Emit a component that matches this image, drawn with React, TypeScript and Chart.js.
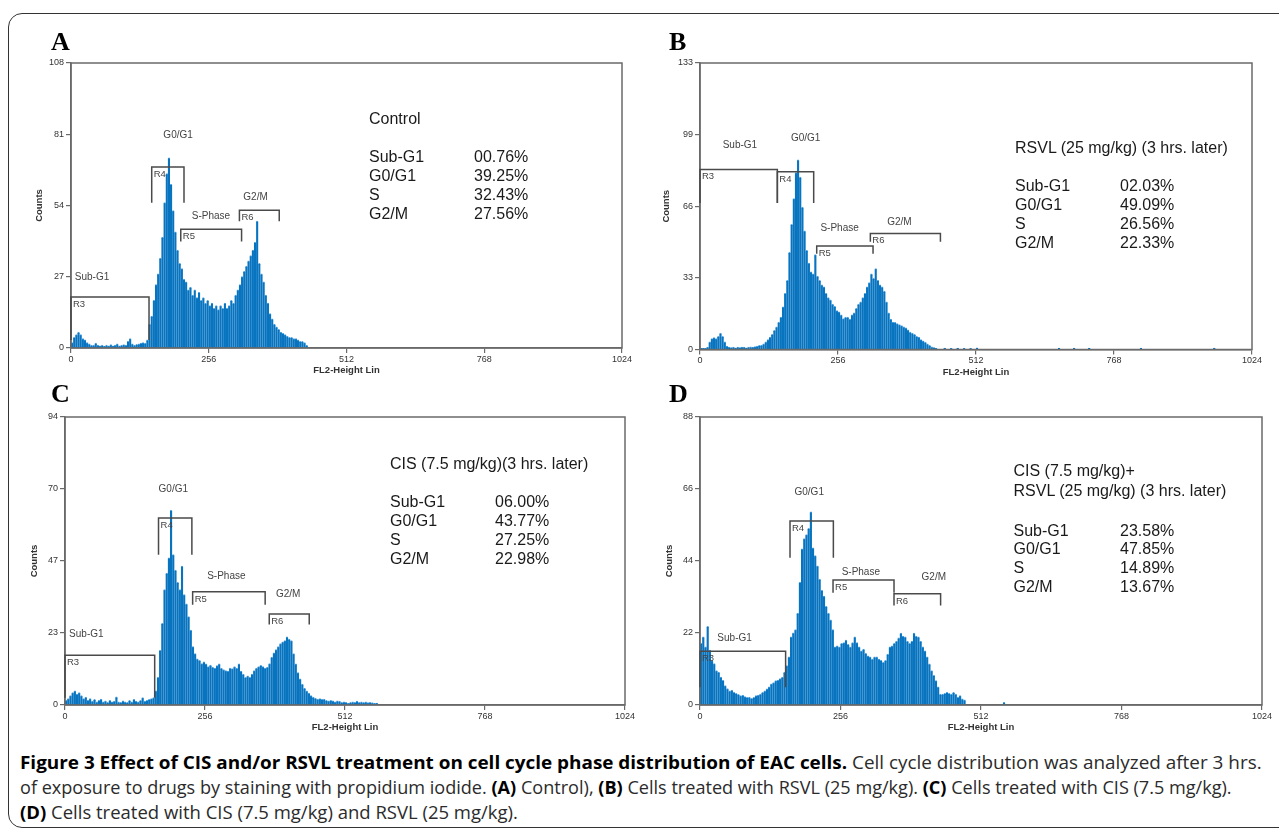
import React, { useEffect, useLayoutEffect, useRef } from 'react';
import { Chart, registerables } from 'chart.js';

Chart.register(...registerables);

// ---------------- data ----------------
const BIN = 4; // channels per histogram bar
const X_TICKS = [0, 256, 512, 768, 1024];
const PHASE_NAMES = ['Sub-G1', 'G0/G1', 'S-Phase', 'G2/M'];
const REGION_NAMES = ['R3', 'R4', 'R5', 'R6'];
const ROW_LABELS = ['Sub-G1', 'G0/G1', 'S', 'G2/M'];

// Panel A – Control
const aCounts = [
  2, 4, 5, 6, 5, 3.5, 3, 2, 1.5, 1, 1, 1.8, 1, 0.8, 1, 0.7, 1, 0.8, 1.2, 0.8,
  1, 1.5, 0.8, 1, 1.2, 1, 2.5, 3.5, 1.5, 1, 1.3, 1.5, 1.8, 2, 1.8, 3, 9, 12, 18, 24,
  28, 34, 42, 55, 66, 72, 62, 52, 44, 37, 32, 30, 26, 25, 22, 23, 20, 22, 19, 21,
  18, 19, 17, 18, 16, 17, 15, 16, 14.5, 16, 15, 17, 15, 16, 18, 17, 20, 22, 24, 27,
  29, 31, 33, 35, 37, 40, 48, 32, 28, 25, 20, 17, 13, 11, 9, 8, 7, 6, 5.5, 5,
  4.5, 4, 4, 3.5, 3.5, 3, 2.5, 2.5, 2, 1,
];
const aYTicks = [0, 27, 54, 81, 108];
const aYLabels = ['0', '27', '54', '81', '108'];
const aRegStart = [0, 150, 204, 313];
const aRegEnd = [145, 210, 317, 387];
const aRegTop = [19.3, 68.6, 45, 52.2];
const aRegFoot = [3, 55, 40.4, 48];
const aPhaseX = [39, 199, 260, 343];
const aPhaseY = [27, 80.5, 50, 57];
const aTitle = ['Control'];
const aPercents = ['00.76%', '39.25%', '32.43%', '27.56%'];

// Panel B – RSVL
const bCounts = [
  0.5, 0.5, 0.5, 1, 3.5, 5, 5.5, 5, 6, 7.5, 6, 3.5, 1.5, 1, 0.8, 1, 0.7, 1, 0.8, 1,
  1, 0.7, 1, 1.2, 1, 1.3, 1.5, 1.8, 2, 2.5, 3.5, 4.5, 5.7, 7, 8.8, 10.5, 12.7, 15, 19.7, 26,
  32, 45, 58, 70, 82, 88, 80, 66, 55, 46, 40, 36, 35, 44, 34, 32, 30, 29, 26, 24,
  23, 21, 20, 18, 17.4, 16, 14.3, 15, 15, 14, 16, 17, 19, 21, 22, 24, 26, 29, 31, 35,
  33, 37.5, 32, 30, 29, 27, 22, 17, 14, 12.7, 12.5, 12, 11.5, 11, 10.4, 10, 9, 8, 7.5, 7,
  6, 5.7, 4.5, 4, 3.4, 2.5, 1.9, 1.2, 0.8, 0.5,
];
const bTailChannels = [452, 464, 476, 488, 500, 512, 664, 692, 720, 816, 952];
const bTailCounts = [0.6, 0.5, 0.6, 0.5, 0.5, 0.7, 0.6, 0.6, 0.6, 0.6, 0.6];
const bYTicks = [0, 33.25, 66.5, 99.75, 133];
const bYLabels = ['0', '33', '66', '99', '133'];
const bRegStart = [0, 143.5, 216.5, 316];
const bRegEnd = [143.5, 210.9, 321, 446];
const bRegTop = [83.6, 82.5, 48, 53.8];
const bRegFoot = [68, 68, 44.5, 50];
const bPhaseX = [74, 196, 259, 370];
const bPhaseY = [95, 98, 56.4, 59];
const bTitle = ['RSVL (25 mg/kg) (3 hrs. later)'];
const bPercents = ['02.03%', '49.09%', '26.56%', '22.33%'];

// Panel C – CIS
const cCounts = [
  1.5, 2, 3, 4, 4.6, 3.5, 4, 3, 2, 2.5, 1.5, 2, 1.2, 1.8, 1, 1.5, 1.9, 1, 1.3, 0.8,
  1.5, 1, 1.2, 2.6, 1, 0.8, 1.3, 1, 0.8, 1.5, 1, 1.8, 1.2, 1, 1.5, 2.4, 1.2, 1.5, 1.8, 2,
  2.4, 4.6, 9, 17.8, 26.6, 37.6, 43, 48, 63.5, 49, 44, 40, 37.6, 45.3, 36, 33, 28.8, 24.4, 19, 16.7,
  15, 14.5, 13.5, 14, 13.4, 12.5, 13, 12.3, 12, 12.8, 13.4, 12, 11.5, 11.2, 11, 12, 11.8, 12.5, 12, 13.4,
  11, 10, 9, 9.5, 9, 10, 11.2, 12, 12.5, 12.9, 12.5, 12, 12.3, 13.5, 15.6, 17, 18, 19, 20, 20.6,
  21, 22.2, 21.5, 21, 16.7, 13.4, 10.5, 8.5, 6.8, 5.5, 4.6, 3.8, 3, 2.5, 2.2, 1.9, 2, 1.8, 1.9, 1.5,
  1.3, 1.5, 1.3, 1, 1.3, 1.2, 0.8, 1, 0.8, 0.5, 0.8, 1, 0.8, 1.2, 0.8, 1, 0.8, 1, 0.7, 0.8,
  0.7, 0.5, 0.6,
];
const cYTicks = [0, 23.5, 47, 70.5, 94];
const cYLabels = ['0', '23', '47', '70', '94'];
const cRegStart = [0, 171, 233.4, 373.5];
const cRegEnd = [164, 232, 366, 446.6];
const cRegTop = [16.2, 61, 37, 29.7];
const cRegFoot = [2.4, 49, 32.7, 26.3];
const cPhaseX = [39, 198, 295, 408];
const cPhaseY = [23, 70.3, 42, 36.3];
const cTitle = ['CIS (7.5 mg/kg)(3 hrs. later)'];
const cPercents = ['06.00%', '43.77%', '27.25%', '22.98%'];

// Panel D – CIS + RSVL
const dCounts = [
  18.8, 20.8, 17.7, 24, 16.7, 13.5, 12.6, 10.5, 10, 8.5, 7.5, 5.9, 5, 4.3, 4.5, 3.8, 3.5, 3.2, 2.8, 3,
  2.5, 2.3, 2.4, 2, 2.3, 2.8, 3, 3.3, 3.8, 4.3, 4.9, 5.5, 6.4, 6.8, 7.4, 7.6, 8, 8.5, 10, 12,
  14.7, 20.8, 22, 23, 28, 37.4, 47.7, 50.8, 52, 53.9, 59, 48, 45.6, 42.5, 38.4, 35, 33.2, 30.1, 28, 26,
  23, 17.7, 18, 17.7, 18.8, 19, 19.8, 18.5, 17.7, 19, 20.8, 19, 17.7, 16.5, 17, 15.7, 15, 14.7, 14, 14.7,
  14.7, 14, 13.6, 13, 13.6, 15.5, 17.7, 18, 18.8, 19.5, 20.5, 21.9, 21, 20.8, 19.5, 18.8, 19.5, 21.9, 21, 20.8,
  19.5, 17.7, 16.5, 14.7, 12.5, 10.5, 9, 7.4, 5.5, 3.3, 3.3, 3.5, 3.8, 3.5, 3.3, 3.8, 3.3, 2.3, 2.8, 1.8,
  1.5,
];
const dTailChannels = [552];
const dTailCounts = [0.8];
const dYTicks = [0, 22, 44, 66, 88];
const dYLabels = ['0', '22', '44', '66', '88'];
const dRegStart = [0, 164, 242.4, 353.5];
const dRegEnd = [156, 243, 353.5, 438.4];
const dRegTop = [16.4, 56.2, 38.2, 34];
const dRegFoot = [5.4, 45, 34.3, 30.4];
const dPhaseX = [63, 199, 293, 426];
const dPhaseY = [20.5, 65, 40.7, 39];
const dTitle = ['CIS (7.5 mg/kg)+', 'RSVL (25 mg/kg) (3 hrs. later)'];
const dPercents = ['23.58%', '47.85%', '14.89%', '13.67%'];

// ---------------- styling / layout ----------------
const HIST_COLOR = '#0874c0';
const HIST_EDGE = '#5aa8e2';
const AXIS_COLOR = '#6a6a6a';
const BRACKET_COLOR = '#4a4a4a';
const LABEL_COLOR = '#444444';
const SANS = "'Liberation Sans', Arial, sans-serif";

type Rect = { left: number; top: number; right: number; bottom: number };
type Panel = {
  letter: string;
  counts: number[];
  tailCh: number[];
  tailCounts: number[];
  yMax: number;
  yTicks: number[];
  yLabels: string[];
  regStart: number[];
  regEnd: number[];
  regTop: number[];
  regFoot: number[];
  phaseX: number[];
  phaseY: number[];
  title: string[];
  percents: string[];
  canvas: Rect;
  plot: Rect;
  yTitleX: number;
  xTitleY: number;
  letterPos: [number, number];
  textLeft: number;
  valueLeft: number;
  titleBase: number[];
  rowBase: number;
  rowStep: number;
};

const panels: Panel[] = [
  {
    letter: 'A', counts: aCounts, tailCh: [], tailCounts: [], yMax: 108, yTicks: aYTicks, yLabels: aYLabels,
    regStart: aRegStart, regEnd: aRegEnd, regTop: aRegTop, regFoot: aRegFoot, phaseX: aPhaseX, phaseY: aPhaseY,
    title: aTitle, percents: aPercents,
    canvas: { left: 8, top: 40, right: 645, bottom: 380 },
    plot: { left: 71, top: 63, right: 622, bottom: 348 },
    yTitleX: 39, xTitleY: 370, letterPos: [51, 51],
    textLeft: 369, valueLeft: 474, titleBase: [124], rowBase: 162.5, rowStep: 18.9,
  },
  {
    letter: 'B', counts: bCounts, tailCh: bTailChannels, tailCounts: bTailCounts, yMax: 133, yTicks: bYTicks, yLabels: bYLabels,
    regStart: bRegStart, regEnd: bRegEnd, regTop: bRegTop, regFoot: bRegFoot, phaseX: bPhaseX, phaseY: bPhaseY,
    title: bTitle, percents: bPercents,
    canvas: { left: 645, top: 40, right: 1275, bottom: 382 },
    plot: { left: 700, top: 63, right: 1252, bottom: 349.5 },
    yTitleX: 666, xTitleY: 372, letterPos: [669, 51],
    textLeft: 1015, valueLeft: 1120, titleBase: [153.5], rowBase: 191.7, rowStep: 18.8,
  },
  {
    letter: 'C', counts: cCounts, tailCh: [], tailCounts: [], yMax: 94, yTicks: cYTicks, yLabels: cYLabels,
    regStart: cRegStart, regEnd: cRegEnd, regTop: cRegTop, regFoot: cRegFoot, phaseX: cPhaseX, phaseY: cPhaseY,
    title: cTitle, percents: cPercents,
    canvas: { left: 8, top: 395, right: 645, bottom: 737 },
    plot: { left: 65, top: 417, right: 625, bottom: 705 },
    yTitleX: 34, xTitleY: 727, letterPos: [51, 403],
    textLeft: 390, valueLeft: 495, titleBase: [469], rowBase: 507.5, rowStep: 19,
  },
  {
    letter: 'D', counts: dCounts, tailCh: dTailChannels, tailCounts: dTailCounts, yMax: 88, yTicks: dYTicks, yLabels: dYLabels,
    regStart: dRegStart, regEnd: dRegEnd, regTop: dRegTop, regFoot: dRegFoot, phaseX: dPhaseX, phaseY: dPhaseY,
    title: dTitle, percents: dPercents,
    canvas: { left: 645, top: 395, right: 1275, bottom: 737 },
    plot: { left: 700, top: 417, right: 1262, bottom: 705 },
    yTitleX: 669, xTitleY: 727, letterPos: [669, 403],
    textLeft: 1013.5, valueLeft: 1120, titleBase: [476.5, 496.5], rowBase: 536, rowStep: 18.9,
  },
];

const framePlugin = {
  id: 'frame',
  afterDatasetsDraw(chart: any) {
    const { ctx, chartArea: a } = chart;
    ctx.save();
    ctx.strokeStyle = AXIS_COLOR;
    ctx.lineWidth = 1.5;
    ctx.strokeRect(a.left, a.top, a.right - a.left, a.bottom - a.top);
    ctx.restore();
  },
};

function regionsPlugin(p: Panel) {
  return {
    id: 'regions',
    afterDatasetsDraw(chart: any) {
      const { ctx } = chart;
      const x = chart.scales.x;
      const y = chart.scales.y;
      ctx.save();
      ctx.strokeStyle = BRACKET_COLOR;
      ctx.lineWidth = 1.5;
      ctx.fillStyle = LABEL_COLOR;
      REGION_NAMES.forEach((name, i) => {
        const x1 = x.getPixelForValue(p.regStart[i]);
        const x2 = x.getPixelForValue(p.regEnd[i]);
        const yt = y.getPixelForValue(p.regTop[i]);
        const yb = y.getPixelForValue(p.regFoot[i]);
        ctx.beginPath();
        ctx.moveTo(x1, yb);
        ctx.lineTo(x1, yt);
        ctx.lineTo(x2, yt);
        ctx.lineTo(x2, yb);
        ctx.stroke();
        ctx.font = `9.5px ${SANS}`;
        ctx.textAlign = 'left';
        ctx.textBaseline = 'top';
        ctx.fillText(name, x1 + 2, yt + 2.5);
      });
      ctx.font = `10px ${SANS}`;
      ctx.textAlign = 'center';
      ctx.textBaseline = 'middle';
      PHASE_NAMES.forEach((name, i) => {
        ctx.fillText(name, x.getPixelForValue(p.phaseX[i]), y.getPixelForValue(p.phaseY[i]));
      });
      ctx.restore();
    },
  };
}

function buildConfig(p: Panel): any {
  const c = p.canvas;
  const a = p.plot;
  const points = p.counts.map((v, i) => ({ x: i * BIN + BIN / 2, y: v }));
  p.tailCh.forEach((ch, i) => points.push({ x: ch + BIN / 2, y: p.tailCounts[i] }));
  const yAxisWidth = a.left - c.left;
  const xAxisHeight = c.bottom - a.bottom;
  const titleFont = { family: SANS, size: 9.5, weight: 'bold' as const, lineHeight: 1.2 };
  const lh = 9.5 * 1.2;
  const tickFont = { family: SANS, size: 9 };
  return {
    type: 'bar',
    data: {
      datasets: [
        {
          data: points,
          backgroundColor: HIST_COLOR,
          borderColor: HIST_EDGE,
          borderWidth: { top: 1, left: 0, right: 0, bottom: 0 },
          borderSkipped: 'start',
          inflateAmount: 0.5,
          barPercentage: 1,
          categoryPercentage: 1,
          grouped: false,
        },
      ],
    },
    options: {
      animation: false,
      responsive: false,
      maintainAspectRatio: false,
      events: [],
      layout: {
        padding: { left: 0, top: a.top - c.top, right: c.right - a.right, bottom: 0 },
      },
      plugins: { legend: { display: false }, tooltip: { enabled: false }, title: { display: false } },
      scales: {
        x: {
          type: 'linear',
          min: 0,
          max: 1024,
          offset: false,
          afterBuildTicks: (s: any) => {
            s.ticks = X_TICKS.map((v) => ({ value: v }));
          },
          afterFit: (s: any) => {
            s.height = xAxisHeight;
          },
          ticks: {
            autoSkip: false,
            maxRotation: 0,
            padding: 1,
            color: '#333',
            font: tickFont,
            callback: (v: any) => String(v),
          },
          grid: { display: true, drawOnChartArea: false, drawTicks: true, tickLength: 5, color: AXIS_COLOR, lineWidth: 1.2, offset: false },
          border: { display: true, color: AXIS_COLOR, width: 1.5 },
          title: {
            display: true,
            text: 'FL2-Height Lin',
            color: '#333',
            font: titleFont,
            padding: { top: 0, bottom: c.bottom - p.xTitleY - lh / 2 },
          },
        },
        y: {
          type: 'linear',
          min: 0,
          max: p.yMax,
          afterBuildTicks: (s: any) => {
            s.ticks = p.yTicks.map((v) => ({ value: v }));
          },
          afterFit: (s: any) => {
            s.width = yAxisWidth;
          },
          ticks: {
            autoSkip: false,
            padding: 2,
            color: '#333',
            font: tickFont,
            callback: (_v: any, i: number) => p.yLabels[i],
          },
          grid: { display: true, drawOnChartArea: false, drawTicks: true, tickLength: 5, color: AXIS_COLOR, lineWidth: 1.2 },
          border: { display: true, color: AXIS_COLOR, width: 1.5 },
          title: {
            display: true,
            text: 'Counts',
            color: '#333',
            font: titleFont,
            padding: { top: p.yTitleX - c.left - lh / 2, bottom: 0 },
          },
        },
      },
    },
    plugins: [framePlugin, regionsPlugin(p)],
  };
}

function HistogramCanvas({ p }: { p: Panel }) {
  const ref = useRef<HTMLCanvasElement>(null);
  useEffect(() => {
    const chart = new Chart(ref.current as HTMLCanvasElement, buildConfig(p));
    return () => chart.destroy();
  }, [p]);
  const w = p.canvas.right - p.canvas.left;
  const h = p.canvas.bottom - p.canvas.top;
  return (
    <canvas
      ref={ref}
      width={w}
      height={h}
      style={{ position: 'absolute', left: p.canvas.left, top: p.canvas.top, width: w, height: h }}
    />
  );
}

const ANN_SIZE = 16;
const annStyle = (left: number, baseline: number): React.CSSProperties => ({
  position: 'absolute',
  left,
  top: baseline - 13.5,
  fontFamily: SANS,
  fontSize: ANN_SIZE,
  lineHeight: `${ANN_SIZE}px`,
  color: '#1a1a1a',
  whiteSpace: 'nowrap',
});

function PanelText({ p }: { p: Panel }) {
  return (
    <>
      <div
        style={{
          position: 'absolute',
          left: p.letterPos[0],
          top: p.letterPos[1] - 21.8,
          fontFamily: "'Liberation Serif', 'Times New Roman', serif",
          fontWeight: 'bold',
          fontSize: 26,
          lineHeight: '26px',
          color: '#000',
        }}
      >
        {p.letter}
      </div>
      {p.title.map((t, i) => (
        <div key={'t' + i} style={annStyle(p.textLeft, p.titleBase[i])}>
          {t}
        </div>
      ))}
      {ROW_LABELS.map((r, i) => (
        <React.Fragment key={'r' + i}>
          <div style={annStyle(p.textLeft, p.rowBase + i * p.rowStep)}>{r}</div>
          <div style={annStyle(p.valueLeft, p.rowBase + i * p.rowStep)}>{p.percents[i]}</div>
        </React.Fragment>
      ))}
    </>
  );
}

const B = ({ children }: { children: React.ReactNode }) => (
  <span style={{ fontWeight: 700, color: '#000' }}>{children}</span>
);

const captionLineStyle = (baseline: number): React.CSSProperties => ({
  position: 'absolute',
  left: 20,
  top: baseline - 16,
  whiteSpace: 'nowrap',
  transformOrigin: '0 0',
  fontFamily: "'Open Sans', sans-serif",
  fontSize: 18,
  lineHeight: '18px',
  color: '#2b2b2b',
});

function Caption() {
  const l1 = useRef<HTMLDivElement>(null);
  const l2 = useRef<HTMLDivElement>(null);
  const l3 = useRef<HTMLDivElement>(null);
  useLayoutEffect(() => {
    const e1 = l1.current;
    const e2 = l2.current;
    const e3 = l3.current;
    if (!e1 || !e2 || !e3) return;
    const s1 = 1242 / e1.scrollWidth;
    const s2 = 1212 / e2.scrollWidth;
    e1.style.transform = `scaleX(${s1})`;
    e2.style.transform = `scaleX(${s2})`;
    e3.style.transform = `scaleX(${(s1 + s2) / 2})`;
  }, []);
  return (
    <>
      <div ref={l1} style={captionLineStyle(768.5)}>
        <B>Figure 3 Effect of CIS and/or RSVL treatment on cell cycle phase distribution of EAC cells.</B> Cell cycle
        distribution was analyzed after 3 hrs.
      </div>
      <div ref={l2} style={captionLineStyle(793.5)}>
        of exposure to drugs by staining with propidium iodide. <B>(A)</B> Control), <B>(B)</B> Cells treated with RSVL (25
        mg/kg). <B>(C)</B> Cells treated with CIS (7.5 mg/kg).
      </div>
      <div ref={l3} style={captionLineStyle(818.5)}>
        <B>(D)</B> Cells treated with CIS (7.5 mg/kg) and RSVL (25 mg/kg).
      </div>
    </>
  );
}

export default function App() {
  return (
    <div style={{ position: 'absolute', left: 0, top: 0, width: 1279, height: 832, overflow: 'hidden', background: '#fff' }}>
      <div
        style={{
          position: 'absolute',
          left: 8,
          top: 13,
          width: 1300,
          height: 815,
          border: '1.5px solid #333',
          borderRadius: 14,
          boxSizing: 'border-box',
        }}
      />
      {panels.map((p) => (
        <HistogramCanvas key={p.letter} p={p} />
      ))}
      {panels.map((p) => (
        <PanelText key={'txt' + p.letter} p={p} />
      ))}
      <Caption />
    </div>
  );
}
